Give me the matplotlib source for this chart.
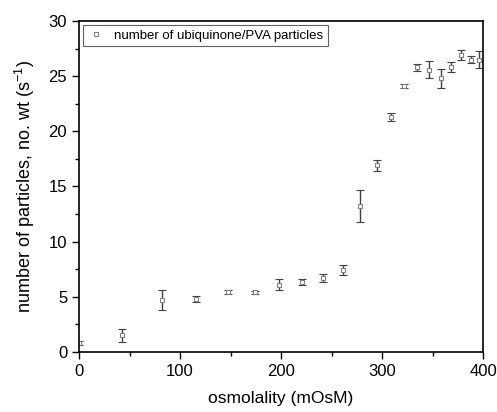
import numpy as np
import matplotlib.pyplot as plt
from matplotlib.ticker import MultipleLocator
from matplotlib.lines import Line2D

plt.rcParams['font.family'] = ['Liberation Sans', 'DejaVu Sans']

# Data
osm = [0, 43, 82, 116, 147, 174, 198, 221, 242, 261, 278, 295, 309, 322, 335, 346, 358, 368, 378, 388, 396]
particles = [0.8, 1.5, 4.7, 4.8, 5.45, 5.4, 6.1, 6.35, 6.7, 7.4, 13.2, 16.9, 21.3, 24.1, 25.8, 25.6, 24.8, 25.8, 26.9, 26.5, 26.5]
err = [0.2, 0.6, 0.9, 0.3, 0.2, 0.15, 0.5, 0.3, 0.35, 0.45, 1.45, 0.5, 0.4, 0.2, 0.3, 0.75, 0.85, 0.45, 0.45, 0.3, 0.8]

fig = plt.figure(figsize=(4.97, 4.12), dpi=100)
ax = fig.add_axes([0.159, 0.146, 0.813, 0.803])

ax.errorbar(osm, particles, yerr=err, fmt='s', ms=3.5, mfc='white', mec='#808080',
            mew=0.8, ecolor='#404040', elinewidth=1.0, capsize=3, capthick=1.0)

ax.set_xlim(0, 400)
ax.set_ylim(0, 30)
ax.xaxis.set_major_locator(MultipleLocator(100))
ax.xaxis.set_minor_locator(MultipleLocator(50))
ax.yaxis.set_major_locator(MultipleLocator(5))
ax.yaxis.set_minor_locator(MultipleLocator(2.5))
ax.tick_params(which='both', direction='out', top=False, right=False, labelsize=12)
ax.tick_params(which='major', length=5, width=1)
ax.tick_params(which='minor', length=3, width=1)
for s in ax.spines.values():
    s.set_linewidth(1.2)

ax.set_xlabel('osmolality (mOsM)', fontsize=12.5, labelpad=9)
ax.set_ylabel('number of particles, no. wt (s$^{\\mathregular{-1}}$)', fontsize=13, labelpad=8)

handle = Line2D([], [], ls='none', marker='s', ms=3, mfc='white', mec='#808080', mew=0.8)
leg = ax.legend([handle], ['number of ubiquinone/PVA particles'], loc='upper left',
                fontsize=9.5, handlelength=1.2, handletextpad=0.8, borderaxespad=0.3,
                fancybox=False, framealpha=1, borderpad=0.35)
leg.get_frame().set_edgecolor('#606060')
leg.get_frame().set_linewidth(0.8)

fig.savefig('out.png', dpi=100)
